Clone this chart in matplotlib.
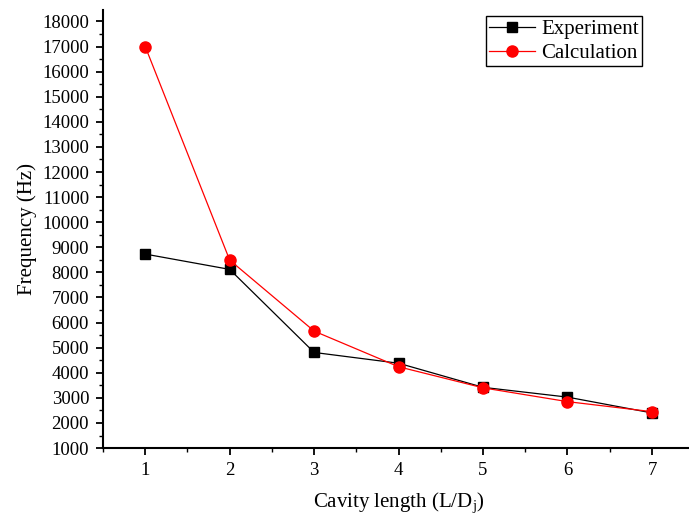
import matplotlib
matplotlib.use('Agg')
from matplotlib import pyplot as plt
from matplotlib.ticker import MultipleLocator

plt.rcParams['font.family'] = ['Liberation Serif', 'DejaVu Serif']
plt.rcParams['mathtext.fontset'] = 'custom'
plt.rcParams['mathtext.rm'] = 'Liberation Serif'
plt.rcParams['mathtext.it'] = 'Liberation Serif'

#Cavity length L/Dj
ld = [1, 2, 3, 4, 5, 6, 7]
#Measured and calculated frequencies (Hz)
experiment = [8730, 8120, 4810, 4380, 3420, 3030, 2400]
calculation = [17000, 8490, 5660, 4240, 3400, 2850, 2450]

fig = plt.figure(figsize=(6.89, 5.21), dpi=100)
#axes runs a little past the right edge of the figure, like the original
ax = fig.add_axes([0.1495, 0.14, 0.858, 0.841])

ax.plot(ld, experiment, color='black', lw=0.9, marker='s', ms=7, label='Experiment')
ax.plot(ld, calculation, color='red', lw=0.9, marker='o', ms=8, label='Calculation')

ax.set_xlim(0.5, 7.5)
ax.set_ylim(1000, 18460)
ax.xaxis.set_major_locator(MultipleLocator(1))
ax.xaxis.set_minor_locator(MultipleLocator(0.5))
ax.yaxis.set_major_locator(MultipleLocator(1000))
ax.yaxis.set_minor_locator(MultipleLocator(500))
ax.set_xticks(ld)

for s in ['top', 'right']:
    ax.spines[s].set_visible(False)
for s in ['left', 'bottom']:
    ax.spines[s].set_linewidth(1.5)
ax.tick_params(which='major', direction='out', length=5, width=1.3, labelsize=13.5, pad=5)
ax.tick_params(which='minor', direction='out', length=3, width=1.0)

ax.set_xlabel('Cavity length (L/D$_\\mathregular{j}$)', fontsize=15, labelpad=8)
ax.set_ylabel('Frequency (Hz)', fontsize=15, labelpad=4)

leg = ax.legend(loc='upper left', bbox_to_anchor=(0.648, 0.985), fontsize=15, numpoints=1,
                fancybox=False, framealpha=1, edgecolor='black', borderpad=0.15,
                handlelength=2.2, labelspacing=0.2, handletextpad=0.3, borderaxespad=0)
leg.get_frame().set_linewidth(1.0)

fig.savefig('out.png', dpi=100)
